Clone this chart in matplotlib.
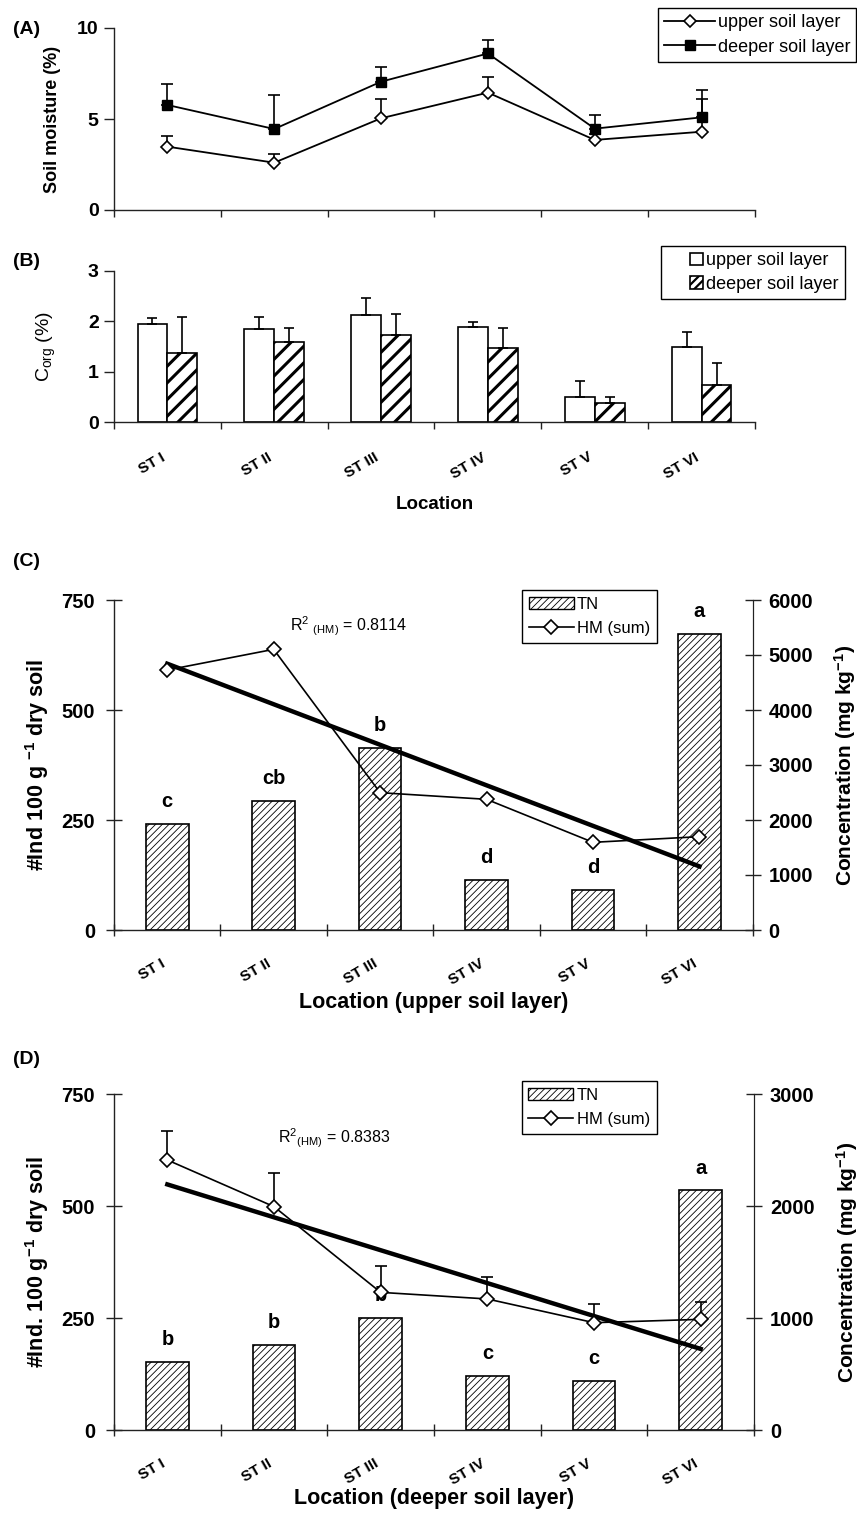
import numpy as np
import matplotlib
matplotlib.use('Agg')
import matplotlib.pyplot as plt
from matplotlib.lines import Line2D
from matplotlib.patches import Patch, Rectangle
from matplotlib.legend_handler import HandlerPatch

plt.rcParams['font.family'] = ['Liberation Sans', 'DejaVu Sans']
plt.rcParams['mathtext.fontset'] = 'custom'
plt.rcParams['mathtext.rm'] = 'Liberation Sans'
plt.rcParams['mathtext.it'] = 'Liberation Sans:italic'
plt.rcParams['mathtext.bf'] = 'Liberation Sans:bold'

# ---------------- data ----------------
locations = ['ST I', 'ST II', 'ST III', 'ST IV', 'ST V', 'ST VI']

moist_upper = [3.48, 2.60, 5.04, 6.45, 3.85, 4.30]
moist_upper_err = [0.59, 0.50, 1.06, 0.85, 0.30, 1.78]
moist_deeper = [5.77, 4.45, 7.05, 8.60, 4.47, 5.09]
moist_deeper_err = [1.13, 1.88, 0.79, 0.74, 0.75, 1.51]

corg_upper = [1.95, 1.85, 2.12, 1.89, 0.51, 1.49]
corg_upper_err = [0.11, 0.23, 0.34, 0.10, 0.30, 0.30]
corg_deeper = [1.38, 1.59, 1.72, 1.48, 0.38, 0.73]
corg_deeper_err = [0.70, 0.28, 0.43, 0.39, 0.13, 0.44]

tn_upper = [242, 294, 414, 114, 91, 673]
hm_upper = [4727, 5103, 2497, 2376, 1594, 1697]
letters_upper = ['c', 'cb', 'b', 'd', 'd', 'a']
r2_upper = '0.8114'

tn_deeper = [153, 191, 251, 121, 110, 536]
hm_deeper = [2413, 1996, 1230, 1171, 959, 989]
hm_deeper_err = [262, 303, 236, 199, 164, 155]
letters_deeper = ['b', 'b', 'b', 'c', 'c', 'a']
r2_deeper = '0.8383'

# ---------------- figure ----------------
W, H = 857, 1513
fig = plt.figure(figsize=(W / 100, H / 100), dpi=100)

def fr(l, r, t, b):
    return [l / W, 1 - b / H, (r - l) / W, (b - t) / H]

x = np.arange(1, len(locations) + 1)
SPC = '#222222'

def setup_x(ax, labels=True, tickdir='out', ticklen=4, pad=19, fs=11):
    ax.set_xlim(0.5, len(locations) + 0.5)
    ax.set_xticks(np.arange(0.5, len(locations) + 1, 1.0))
    ax.set_xticklabels([])
    ax.tick_params(axis='x', which='major', direction=tickdir, length=ticklen, width=1, color=SPC)
    if labels:
        ax.set_xticks(x, minor=True)
        ax.set_xticklabels(locations, minor=True, rotation=30, ha='right', va='top',
                           fontsize=fs, fontweight='bold')
        ax.tick_params(axis='x', which='minor', length=0, pad=pad)
    for s in ['top', 'right']:
        ax.spines[s].set_visible(False)
    for s in ['left', 'bottom']:
        ax.spines[s].set_color(SPC)
        ax.spines[s].set_linewidth(1)

def small_box(legend, orig_handle, xdescent, ydescent, width, height, fontsize):
    s = height * 1.0
    return Rectangle((width - s - 0.5, -ydescent + (height - s) / 2), s, s)

# ---------- Panel A ----------
axA = fig.add_axes(fr(114, 755, 28, 210))
axA.errorbar(x, moist_upper, yerr=[np.zeros(6), moist_upper_err], fmt='none',
             ecolor='black', elinewidth=1.2, capsize=4, capthick=1.2, zorder=2)
axA.errorbar(x, moist_deeper, yerr=[np.zeros(6), moist_deeper_err], fmt='none',
             ecolor='black', elinewidth=1.2, capsize=4, capthick=1.2, zorder=2)
axA.plot(x, moist_upper, '-', color='black', lw=1.3, marker='D', ms=6.5,
         mfc='white', mec='black', mew=1.2, zorder=3)
axA.plot(x, moist_deeper, '-', color='black', lw=1.3, marker='s', ms=7.5,
         mfc='black', mec='black', zorder=3)
axA.set_ylim(0, 10)
axA.set_yticks([0, 5, 10])
axA.tick_params(axis='y', direction='out', length=7, width=1, color=SPC, labelsize=14, pad=4)
for lb in axA.get_yticklabels():
    lb.set_fontweight('bold')
setup_x(axA, labels=False, ticklen=5)
axA.set_ylabel('Soil moisture (%)', fontsize=13, fontweight='bold')
axA.yaxis.set_label_coords(-0.082, 0.5)
hA = [Line2D([], [], color='black', lw=1.3, marker='D', ms=6.5, mfc='white', mec='black', mew=1.2),
      Line2D([], [], color='black', lw=1.3, marker='s', ms=7.5, mfc='black', mec='black')]
fig.legend(hA, ['upper soil layer', 'deeper soil layer'], loc='upper left',
           bbox_to_anchor=(658 / W, 1 - 8 / H), fontsize=13, frameon=True, fancybox=False,
           edgecolor='black', framealpha=1, handlelength=2.8, handletextpad=0.15,
           labelspacing=0.4, borderpad=0.35, borderaxespad=0, handleheight=0.7)

# ---------- Panel B ----------
axB = fig.add_axes(fr(114, 755, 270.7, 422.3))
bw = 0.28
axB.bar(x - bw / 2, corg_upper, width=bw, color='white', edgecolor='black', lw=1.2,
        yerr=[np.zeros(6), corg_upper_err], capsize=3.5,
        error_kw=dict(elinewidth=1.2, capthick=1.2, ecolor='black'))
plt.rcParams['hatch.linewidth'] = 2.2
axB.bar(x + bw / 2, corg_deeper, width=bw, color='white', edgecolor='black', lw=1.2,
        hatch='//', yerr=[np.zeros(6), corg_deeper_err], capsize=3.5,
        error_kw=dict(elinewidth=1.2, capthick=1.2, ecolor='black'))
axB.set_ylim(0, 3)
axB.set_yticks([0, 1, 2, 3])
axB.tick_params(axis='y', direction='out', length=7, width=1, color=SPC, labelsize=14, pad=4)
for lb in axB.get_yticklabels():
    lb.set_fontweight('bold')
setup_x(axB, labels=True, ticklen=5, pad=20, fs=11)
axB.set_ylabel('C$_{\\mathrm{org}}$ (%)', fontsize=14)
axB.yaxis.set_label_coords(-0.088, 0.5)
axB.set_xlabel('Location', fontsize=13.5, fontweight='bold', labelpad=11)
plt.rcParams['hatch.linewidth'] = 1.6
hB = [Patch(facecolor='white', edgecolor='black', lw=1.2),
      Patch(facecolor='white', edgecolor='black', lw=1.2, hatch='////')]
fig.legend(hB, ['upper soil layer', 'deeper soil layer'], loc='upper left',
           bbox_to_anchor=(661 / W, 1 - 246 / H), fontsize=13, frameon=True, fancybox=False,
           edgecolor='black', framealpha=1, handlelength=2.0, handleheight=0.7,
           handletextpad=0.15, labelspacing=0.35, borderpad=0.35, borderaxespad=0,
           handler_map={Patch: HandlerPatch(patch_func=small_box)})

# ---------- Panels C & D ----------
plt.rcParams['hatch.linewidth'] = 0.6

def tn_hm_panel(rect, tn, hm, hm_err, letters, r2, r2_text_pos, ylim_r, rticks, ylabel_l,
                xlabel, leg_anchor, r2_space, xlabelpad):
    ax = fig.add_axes(rect)
    ax.bar(x, tn, width=0.4, color='white', edgecolor='black', lw=1.2, hatch='/////',
           zorder=2)
    for xi, v, t in zip(x, tn, letters):
        ax.annotate(t, (xi, v), xytext=(0, 9), textcoords='offset points', ha='center',
                    va='bottom', fontsize=14.5, fontweight='bold')
    ax.set_ylim(0, 750)
    ax.set_yticks([0, 250, 500, 750])
    ax.tick_params(axis='y', direction='inout', length=11, width=1, color=SPC, labelsize=14.5,
                   pad=8)
    for lb in ax.get_yticklabels():
        lb.set_fontweight('bold')
    setup_x(ax, labels=True, tickdir='inout', ticklen=8, pad=19, fs=11)
    ax.spines['right'].set_visible(True)
    ax.spines['right'].set_color(SPC)
    ax.set_ylabel(ylabel_l, fontsize=15.5, fontweight='bold')
    ax.yaxis.set_label_coords(-0.098, 0.5)
    ax.set_xlabel(xlabel, fontsize=15.5, fontweight='bold', labelpad=xlabelpad)

    ax2 = ax.twinx()
    for s in ['top', 'left', 'bottom']:
        ax2.spines[s].set_visible(False)
    ax2.spines['right'].set_color(SPC)
    # trend line (least squares fit of HM on location index)
    coef = np.polyfit(x, hm, 1)
    ax2.plot([x[0], x[-1]], np.polyval(coef, [x[0], x[-1]]), color='black', lw=3.2, zorder=3)
    if hm_err is not None:
        ax2.errorbar(x, hm, yerr=[np.zeros(6), hm_err], fmt='none', ecolor='black',
                     elinewidth=1.2, capsize=4.5, capthick=1.2, zorder=4)
    ax2.plot(x, hm, '-', color='black', lw=1.2, marker='D', ms=7.5, mfc='white',
             mec='black', mew=1.2, zorder=5)
    ax2.set_ylim(*ylim_r)
    ax2.set_yticks(rticks)
    ax2.tick_params(axis='y', direction='inout', length=11, width=1, color=SPC, labelsize=14.5,
                    pad=6)
    for lb in ax2.get_yticklabels():
        lb.set_fontweight('bold')
    ax2.set_ylabel('Concentration (mg kg$^{\\mathbf{-1}}$)', fontsize=15, fontweight='bold')
    ax2.yaxis.set_label_coords(1.125, 0.5)
    ax2.text(r2_text_pos[0], r2_text_pos[1],
             'R$^{2}$' + r2_space + '$_{\\mathrm{(HM)}}$ = ' + r2, transform=ax2.transAxes,
             fontsize=11.5, ha='left', va='center')
    h = [Patch(facecolor='white', edgecolor='black', lw=1.0, hatch='/////'),
         Line2D([], [], color='black', lw=1.2, marker='D', ms=7.5, mfc='white', mec='black',
                mew=1.2)]
    fig.legend(h, ['TN', 'HM (sum)'], loc='upper left', bbox_to_anchor=leg_anchor,
               fontsize=12, frameon=True, fancybox=False, edgecolor='black', framealpha=1,
               handlelength=2.7, handleheight=0.7, handletextpad=0.2, labelspacing=0.55,
               borderpad=0.4, borderaxespad=0)
    return ax, ax2

tn_hm_panel(fr(114, 752.7, 600, 930), tn_upper, hm_upper, None, letters_upper, r2_upper,
            (0.275, 0.919), (0, 6000), [0, 1000, 2000, 3000, 4000, 5000, 6000],
            '#Ind 100 g $^{\\mathbf{-1}}$ dry soil', 'Location (upper soil layer)',
            (522 / W, 1 - 590 / H), ' ', 3)
tn_hm_panel(fr(114, 754, 1094.3, 1430), tn_deeper, hm_deeper, hm_deeper_err, letters_deeper,
            r2_deeper, (0.256, 0.87), (0, 3000), [0, 1000, 2000, 3000],
            '#Ind. 100 g$^{\\mathbf{-1}}$ dry soil', 'Location (deeper soil layer)',
            (521.7 / W, 1 - 1081 / H), '', 0)

# panel labels
for lab, yy in [('(A)', 29), ('(B)', 262), ('(C)', 561), ('(D)', 1059)]:
    fig.text(13 / W, 1 - yy / H, lab, fontsize=14, fontweight='bold', ha='left', va='center')

fig.savefig('out.png', dpi=100)
